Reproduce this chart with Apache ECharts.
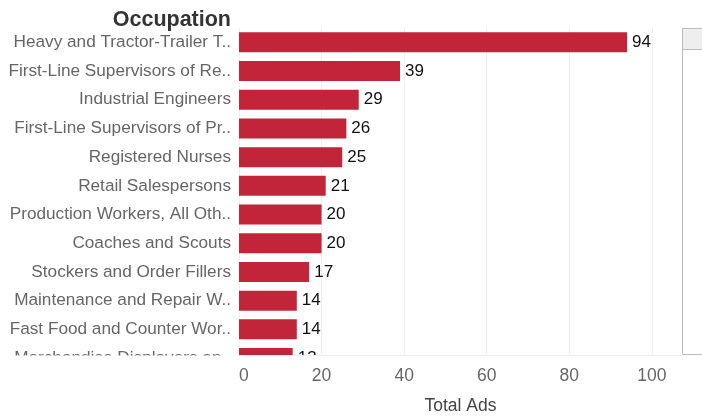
<!DOCTYPE html>
<html>
<head>
<meta charset="utf-8">
<script src="https://cdn.jsdelivr.net/npm/echarts@6/dist/echarts.min.js"></script>
<style>
  html, body { margin: 0; padding: 0; background: #fff; }
  #chart { width: 702px; height: 417px; }
</style>
</head>
<body>
<div id="chart"></div>
<script>
var chart = echarts.init(document.getElementById('chart'));

// occupations, already shortened the way the chart shows them
let occupations = [
    'Heavy and Tractor-Trailer T..',
    'First-Line Supervisors of Re..',
    'Industrial Engineers',
    'First-Line Supervisors of Pr..',
    'Registered Nurses',
    'Retail Salespersons',
    'Production Workers, All Oth..',
    'Coaches and Scouts',
    'Stockers and Order Fillers',
    'Maintenance and Repair W..',
    'Fast Food and Counter Wor..',
    'Merchandise Displayers an..'
];
let totalAds = [94, 39, 29, 26, 25, 21, 20, 20, 17, 14, 14, 13];

let font = 'Liberation Sans, Arial, sans-serif';
let barColor = '#c22539';
let gridColor = '#efefef';

option = {
    backgroundColor: '#fff',
    animation: false,
    title: {
        text: 'Occupation',
        left: 226,
        top: 4,
        textAlign: 'right',
        textStyle: {
            fontFamily: font,
            fontSize: 21.5,
            fontWeight: 'bold',
            color: '#333'
        }
    },
    grid: [{
        left: 239,
        right: 20,
        top: 28,
        height: 344.4
    }, {
        left: 239,
        right: 20,
        top: 354,
        height: 1
    }],
    xAxis: [{
        type: 'value',
        gridIndex: 0,
        min: 0,
        max: 107.3,
        interval: 20,
        axisLine: { show: false },
        axisTick: { show: false },
        axisLabel: { show: false },
        splitLine: {
            showMaxLine: false,
            lineStyle: { color: gridColor }
        }
    }, {
        type: 'value',
        gridIndex: 1,
        min: 0,
        max: 107.3,
        interval: 20,
        z: 20,
        name: 'Total Ads',
        nameLocation: 'middle',
        nameGap: 42,
        nameTextStyle: {
            fontFamily: font,
            fontSize: 17.5,
            color: '#444'
        },
        axisLine: { show: true, lineStyle: { color: gridColor } },
        axisTick: { show: false },
        splitLine: { show: false },
        axisLabel: {
            margin: 12,
            showMaxLabel: false,
            alignMinLabel: 'left',
            fontFamily: font,
            fontSize: 17.5,
            color: '#666'
        }
    }],
    yAxis: [{
        type: 'category',
        gridIndex: 0,
        inverse: true,
        data: occupations,
        axisLine: { show: false },
        axisTick: { show: false },
        splitLine: { show: false },
        axisLabel: {
            margin: 8,
            padding: [4, 0, 0, 0],
            fontFamily: font,
            fontSize: 17.2,
            color: '#666'
        }
    }, {
        type: 'category',
        gridIndex: 1,
        show: false,
        data: ['']
    }],
    series: [{
        type: 'bar',
        xAxisIndex: 0,
        yAxisIndex: 0,
        data: totalAds,
        barWidth: 20,
        itemStyle: { color: barColor },
        label: {
            show: true,
            position: 'right',
            distance: 5,
            padding: [3, 0, 0, 0],
            fontFamily: font,
            fontSize: 17,
            color: '#111'
        }
    }],
    graphic: [{
        type: 'rect',
        z: 10,
        shape: { x: 0, y: 355.5, width: 702, height: 62 },
        style: { fill: '#fff' }
    }, {
        type: 'rect',
        z: 11,
        shape: { x: 682.5, y: 28.5, width: 40, height: 326 },
        style: { fill: '#fff', stroke: '#bbb', lineWidth: 1 }
    }, {
        type: 'rect',
        z: 12,
        shape: { x: 683, y: 29, width: 40, height: 20 },
        style: { fill: '#eeeeee' }
    }, {
        type: 'line',
        z: 12,
        shape: { x1: 683, y1: 49.5, x2: 702, y2: 49.5 },
        style: { stroke: '#bbb', lineWidth: 1 }
    }]
};
chart.setOption(option);
</script>
</body>
</html>
